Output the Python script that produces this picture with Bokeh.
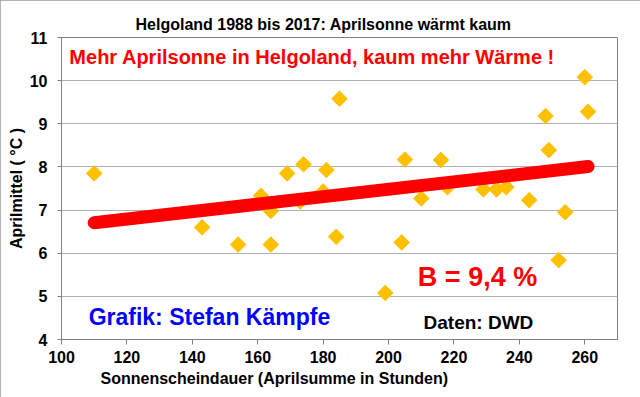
import numpy as np
from bokeh.plotting import figure
from bokeh.models import ColumnDataSource, Title, FixedTicker
from bokeh.core.properties import value
from bokeh.embed import file_html
from bokeh.resources import INLINE

# Data: April sunshine hours vs April mean temperature, Helgoland 1988-2017
sun_hours = [110, 143, 154, 161, 164, 164, 169, 174, 173, 181, 180, 185, 184,
             199, 205, 204, 210, 216, 218, 229, 233, 236, 243, 248, 249, 254,
             252, 260, 261]
april_temp = [7.85, 6.6, 6.2, 7.33, 6.98, 6.2, 7.85, 8.06, 7.2, 7.93, 7.43, 9.58, 6.38,
              5.08, 8.17, 6.25, 7.27, 8.16, 7.53, 7.48, 7.48, 7.53, 7.23, 9.18, 8.39, 6.95,
              5.84, 10.08, 9.28]
x_ticks = [100, 120, 140, 160, 180, 200, 220, 240, 260]
y_ticks = [4, 5, 6, 7, 8, 9, 10, 11]

title_text = "Helgoland 1988 bis 2017: Aprilsonne wärmt kaum"
note_red = "Mehr Aprilsonne in Helgoland, kaum mehr Wärme !"
note_b = "B = 9,4 %"
note_author = "Grafik: Stefan Kämpfe"
note_source = "Daten: DWD"
x_label = "Sonnenscheindauer (Aprilsumme in Stunden)"
y_label = "Aprilmittel ( °C )"

FONT = "Liberation Sans"

xs = np.array(sun_hours, dtype=float)
ys = np.array(april_temp, dtype=float)
slope, intercept = np.polyfit(xs, ys, 1)
trend_x = [xs.min(), xs.max()]
trend_y = [intercept + slope * v for v in trend_x]

p = figure(width=640, height=397, x_range=(100, 270), y_range=(4, 11),
           output_backend="svg", toolbar_location=None,
           min_border_left=61, min_border_right=23, min_border_top=37,
           min_border_bottom=58,
           background_fill_color="white", border_fill_color="white",
           styles={"outline": "2px solid #9a9a9a", "outline-offset": "-2px"})

p.title.text = ""
t = Title(text=title_text, align="left", offset=74, standoff=10,
          text_font=FONT, text_font_size="16px", text_font_style="bold",
          text_color="black")
p.add_layout(t, "above")

p.outline_line_color = "#808080"
p.outline_line_width = 1

p.xgrid.visible = False
p.ygrid.grid_line_color = "#b0b0b0"
p.ygrid.grid_line_width = 1
p.ygrid.ticker = FixedTicker(ticks=y_ticks)

p.xaxis.ticker = FixedTicker(ticks=x_ticks)
p.yaxis.ticker = FixedTicker(ticks=y_ticks)
for ax in (p.xaxis, p.yaxis):
    ax.axis_line_color = "#808080"
    ax.major_tick_line_color = "#808080"
    ax.minor_tick_line_color = None
    ax.major_tick_in = 0
    ax.major_tick_out = 5
    ax.major_label_text_font = FONT
    ax.major_label_text_font_size = "16px"
    ax.major_label_text_font_style = "bold"
    ax.major_label_text_color = "black"
p.xaxis.major_label_standoff = 6
p.yaxis.major_tick_out = 4
p.yaxis.major_label_standoff = 10

p.yaxis.axis_label = y_label
p.yaxis.axis_label_text_font = FONT
p.yaxis.axis_label_text_font_size = "16px"
p.yaxis.axis_label_text_font_style = "bold"
p.yaxis.axis_label_text_color = "black"
p.yaxis.axis_label_standoff = 2

xl = Title(text=x_label, align="left", offset=39, standoff=4,
           text_font=FONT, text_font_size="16px", text_font_style="bold",
           text_color="black")
p.add_layout(xl, "below")

src = ColumnDataSource(dict(x=sun_hours, y=april_temp))
p.scatter("x", "y", source=src, marker="square", size=11, angle=np.pi / 4,
          fill_color="#FFC000", line_color="#FFC000")

p.line(trend_x, trend_y, line_color="#FF0000", line_width=13, line_cap="round")

p.text(x=[102.4], y=[10.54], text=[note_red], text_font=value(FONT),
       text_font_size="20px", text_font_style="bold", text_color="#FF0000",
       text_baseline="middle", text_align="left")
p.text(x=[227.2], y=[5.45], text=[note_b], text_font=value(FONT),
       text_font_size="27px", text_font_style="bold", text_color="#FF0000",
       text_baseline="middle", text_align="center")
p.text(x=[108.3], y=[4.53], text=[note_author], text_font=value(FONT),
       text_font_size="23px", text_font_style="bold", text_color="#0000FF",
       text_baseline="middle", text_align="left")
p.text(x=[210.7], y=[4.39], text=[note_source], text_font=value(FONT),
       text_font_size="19px", text_font_style="bold", text_color="black",
       text_baseline="middle", text_align="left")

open("out.html", "w").write(file_html(p, INLINE))
